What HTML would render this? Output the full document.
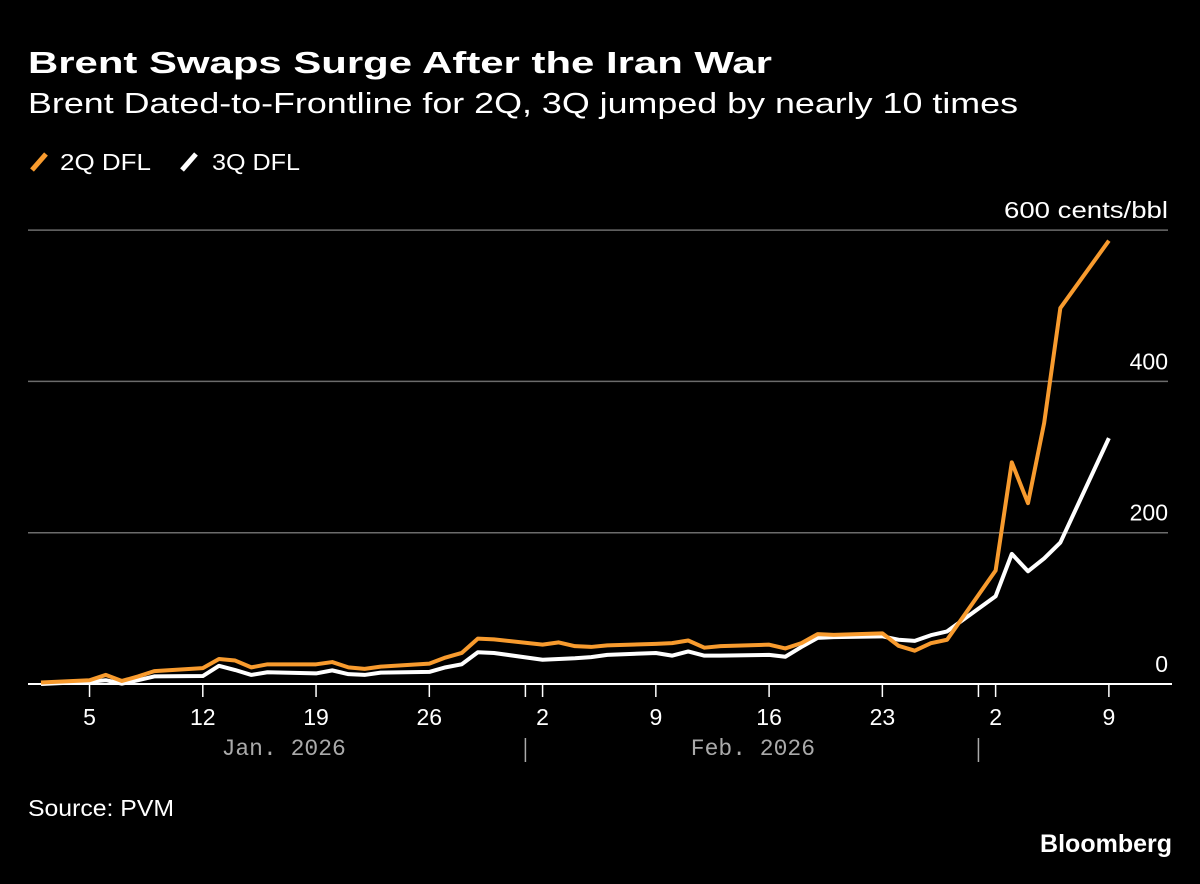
<!DOCTYPE html>
<html><head><meta charset="utf-8"><style>
body{margin:0;background:#000;width:1200px;height:884px;overflow:hidden;font-family:"Liberation Sans",sans-serif;color:#fff}
svg{position:absolute;left:0;top:0}
text{fill:#fff}
text.month{fill:#aaa}
</style></head><body>
<svg width="1200" height="884">
<text x="28" y="73" font-size="31" font-weight="bold" fill="#fff" textLength="744" lengthAdjust="spacingAndGlyphs">Brent Swaps Surge After the Iran War</text>
<text x="28" y="113" font-size="29" fill="#fff" textLength="990" lengthAdjust="spacingAndGlyphs">Brent Dated-to-Frontline for 2Q, 3Q jumped by nearly 10 times</text>
<g>
<line x1="32" y1="170" x2="46" y2="154" stroke="#f89b2e" stroke-width="5"/>
<text x="60" y="170" font-size="23" fill="#fff" textLength="91" lengthAdjust="spacingAndGlyphs">2Q DFL</text>
<line x1="182" y1="170" x2="196" y2="154" stroke="#fff" stroke-width="5"/>
<text x="212" y="170" font-size="23" fill="#fff" textLength="88" lengthAdjust="spacingAndGlyphs">3Q DFL</text>
</g>
<g id="grid"></g><g id="xax"></g><g id="lines"></g>
<text x="28" y="816" font-size="23" fill="#fff" textLength="146" lengthAdjust="spacingAndGlyphs">Source: PVM</text>
<text x="1172" y="852" font-size="25" font-weight="bold" fill="#fff" text-anchor="end">Bloomberg</text>
</svg>
<script>
const dates=["2026-01-02","2026-01-05","2026-01-06","2026-01-07","2026-01-08","2026-01-09","2026-01-12","2026-01-13","2026-01-14","2026-01-15","2026-01-16","2026-01-19","2026-01-20","2026-01-21","2026-01-22","2026-01-23","2026-01-26","2026-01-27","2026-01-28","2026-01-29","2026-01-30","2026-02-02","2026-02-03","2026-02-04","2026-02-05","2026-02-06","2026-02-09","2026-02-10","2026-02-11","2026-02-12","2026-02-13","2026-02-16","2026-02-17","2026-02-18","2026-02-19","2026-02-20","2026-02-23","2026-02-24","2026-02-25","2026-02-26","2026-02-27","2026-03-02","2026-03-03","2026-03-04","2026-03-05","2026-03-06","2026-03-09"];
const q2=[2,5,12,4,10,17,21,33,31,22,26,26,29,22,20,23,27,35,41,60,59,52,55,50,49,51,53,54,57.5,48,50,52,47,54,66,65,67,50.5,44,54,58.5,150,293,239,345,497,586];
const q3=[0,3,5,0.5,5,10,10.5,24,18.5,12,15.5,14,18,13,12,15,16,22,26,42,41,32,33,34,35.5,38.5,41,37.5,43,37.5,37.5,38.5,36,49,61,62,63,58.5,57,64.5,69.5,116,172,149,166,187,325];
const yTicks=[0,200,400,600];
const yTickLabels=["0","200","400","600 cents/bbl"];
const xTickDates=["2026-01-05","2026-01-12","2026-01-19","2026-01-26","2026-02-02","2026-02-09","2026-02-16","2026-02-23","2026-03-02","2026-03-09"];
const xTickLabels=["5","12","19","26","2","9","16","23","2","9"];
const monthSeps=["2026-02-01","2026-03-01"];
const monthLabels=[["Jan. 2026","2026-01-17"],["Feb. 2026","2026-02-15"]];
const NS="http://www.w3.org/2000/svg";
const d0=Date.parse("2026-01-02");
function X(d){return 41+(Date.parse(d)-d0)/864e5*16.18;}
function Y(v){return 684-v*0.7565;}
function mk(t,a,p){const e=document.createElementNS(NS,t);for(const k in a)e.setAttribute(k,a[k]);document.getElementById(p).appendChild(e);return e;}
yTicks.forEach((v,i)=>{
 if(v>0){const g=mk('line',{x1:28,x2:1168,y1:Y(v),y2:Y(v),stroke:'#6b6b6b','stroke-width':1.5},'grid');
 
 }
 const t=mk('text',{x:1168,y:Y(v)-12,'font-size':23,fill:'#fff','text-anchor':'end'},'grid');t.textContent=yTickLabels[i];
 if(v===600){t.setAttribute('textLength','164');t.setAttribute('lengthAdjust','spacingAndGlyphs');}
 
 
});
const ax=mk('line',{x1:28,x2:1172,y1:684,y2:684,stroke:'#fff','stroke-width':2},'xax');


xTickDates.forEach((d,i)=>{
 const x=X(d);
 const l=mk('line',{x1:x,x2:x,y1:684,y2:697,stroke:'#fff','stroke-width':1.5},'xax');
 
 
 const t=mk('text',{x:x,y:725,'font-size':23,fill:'#fff','text-anchor':'middle'},'xax');t.textContent=xTickLabels[i];
 
 
});
monthSeps.forEach(d=>{const x=X(d)-1;
 const a=mk('line',{x1:x,x2:x,y1:684,y2:697,stroke:'#fff','stroke-width':1.5},'xax');
 
 
 const b=mk('line',{x1:x,x2:x,y1:738,y2:762,stroke:'#aaa','stroke-width':1.5},'xax');
 
 
});
monthLabels.forEach(m=>{const t=mk('text',{x:X(m[1]),y:755,'font-size':23,'class':'month','text-anchor':'middle','font-family':'Liberation Mono, monospace'},'xax');t.textContent=m[0];
 
 });
function line(vals,color,name){
 const p=mk('polyline',{points:vals.map((v,i)=>X(dates[i])+','+Y(v)).join(' '),fill:'none',stroke:color,'stroke-width':4,'stroke-linejoin':'round'},'lines');
 
 
}
line(q3,'#fff','line-3q-dfl');
line(q2,'#f89b2e','line-2q-dfl');
</script>
</body></html>
